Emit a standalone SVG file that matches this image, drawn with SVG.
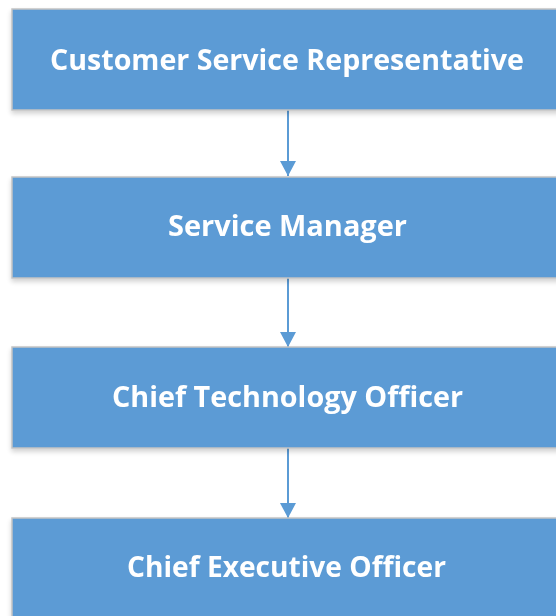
<svg xmlns="http://www.w3.org/2000/svg" width="556" height="616" viewBox="0 0 556 616">
<style>
.box{fill:#5B9BD5;stroke:#C3C3C3;stroke-width:1.5}
.lbl{font-family:"Open Sans","DejaVu Sans",sans-serif;font-weight:bold;font-size:29px;fill:#FFFFFF;text-anchor:middle}
.con{stroke:#5B9BD5;stroke-width:2;fill:none}
</style>
<defs>
<filter id="sh" x="-5%" y="-10%" width="110%" height="130%">
<feGaussianBlur in="SourceAlpha" stdDeviation="2.5"/>
<feOffset dy="3"/>
<feComponentTransfer><feFuncA type="linear" slope="0.18"/></feComponentTransfer>
<feMerge><feMergeNode/><feMergeNode in="SourceGraphic"/></feMerge>
</filter>
<marker id="ah" markerWidth="16" markerHeight="18" refX="15" refY="8" orient="auto" markerUnits="userSpaceOnUse">
<path d="M0,0 L15,8 L0,16 Z" fill="#5B9BD5"/>
</marker>
</defs>
<g id="connectors">
<line class="con" x1="288" y1="110" x2="288" y2="176" marker-end="url(#ah)"/>
<line class="con" x1="288" y1="278" x2="288" y2="347" marker-end="url(#ah)"/>
<line class="con" x1="288" y1="448" x2="288" y2="518" marker-end="url(#ah)"/>
</g>
<g id="n1" filter="url(#sh)">
<rect class="box" x="12" y="9" width="548" height="101"/>
<text class="lbl" x="287" y="70" textLength="474" lengthAdjust="spacingAndGlyphs">Customer Service Representative</text>
</g>
<g id="n2" filter="url(#sh)">
<rect class="box" x="12" y="177" width="548" height="101"/>
<text class="lbl" x="287.5" y="236" textLength="239" lengthAdjust="spacingAndGlyphs">Service Manager</text>
</g>
<g id="n3" filter="url(#sh)">
<rect class="box" x="12" y="347" width="548" height="101"/>
<text class="lbl" x="287.5" y="407" textLength="351" lengthAdjust="spacingAndGlyphs">Chief Technology Officer</text>
</g>
<g id="n4" filter="url(#sh)">
<rect class="box" x="12" y="518" width="548" height="104"/>
<text class="lbl" x="286.5" y="577" textLength="319" lengthAdjust="spacingAndGlyphs">Chief Executive Officer</text>
</g>
</svg>
